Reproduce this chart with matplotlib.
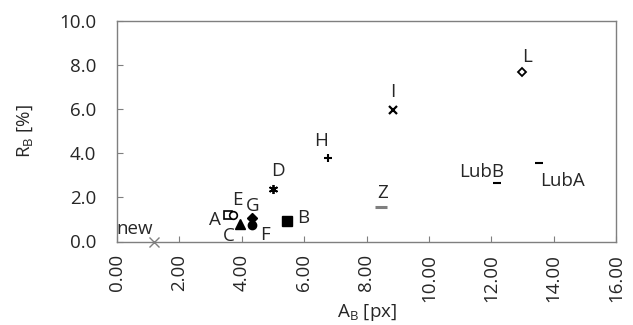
import matplotlib
matplotlib.use("Agg")
import matplotlib.pyplot as plt

# data
names = ["new", "A", "E", "C", "G", "F", "B", "D", "H", "I", "Z", "L", "LubB", "LubA"]
a_b = [1.19, 3.56, 3.72, 3.94, 4.33, 4.33, 5.45, 5.00, 6.76, 8.85, 8.46, 13.00, 12.18, 13.53]
r_b = [0.00, 1.20, 1.20, 0.79, 1.07, 0.75, 0.93, 2.38, 3.79, 5.96, 1.56, 7.69, 2.65, 3.56]

x_ticks = [0, 2, 4, 6, 8, 10, 12, 14, 16]
y_ticks = [0, 2, 4, 6, 8, 10]

# marker style for each point: (marker, size, facecolor, edgecolor, edgewidth)
styles = {
    "new": ("x", 7, "none", "#7f7f7f", 1.0),
    "A": ("s", 5.5, "white", "black", 1.2),
    "E": ("o", 5.5, "white", "black", 1.2),
    "C": ("^", 7, "black", "black", 1.0),
    "G": ("D", 5, "black", "black", 1.0),
    "F": ("o", 6, "black", "black", 1.0),
    "B": ("s", 6.5, "black", "black", 1.0),
    "D": ((6, 2, 0), 6.5, "black", "black", 1.3),
    "H": ("+", 6, "black", "black", 1.5),
    "I": ("x", 5.5, "black", "black", 1.6),
    "Z": ("_", 9, "#7f7f7f", "#7f7f7f", 2.2),
    "L": ("D", 4.5, "white", "black", 1.3),
    "LubB": ("_", 6, "black", "black", 1.5),
    "LubA": ("_", 6, "black", "black", 1.5),
}

# label offsets in pixels (right, up) from the marker
offsets = {
    "new": (-19, 12), "A": (-13, -5), "E": (4, 15), "C": (-11, -12),
    "G": (1, 12), "F": (13, -10), "B": (16, 3), "D": (5, 18),
    "H": (-7, 17), "I": (0, 18), "Z": (2, 14), "L": (5, 15),
    "LubB": (-15, 11), "LubA": (24, -18),
}

plt.rcParams['font.family'] = ['Open Sans', 'DejaVu Sans']
plt.rcParams['mathtext.fontset'] = 'custom'
plt.rcParams['mathtext.rm'] = 'Open Sans'
text_col = "#262626"
fs = 13.5

fig = plt.figure(figsize=(6.33, 3.25), dpi=100)
ax = fig.add_axes([117 / 633, (325 - 241.5) / 325, (616 - 117) / 633, (241.5 - 21) / 325])

for name, x, y in zip(names, a_b, r_b):
    m, ms, fc, ec, ew = styles[name]
    ax.plot(x, y, linestyle="none", marker=m, markersize=ms,
            markerfacecolor=fc, markeredgecolor=ec, markeredgewidth=ew,
            clip_on=False, zorder=3)
    dx, dy = offsets[name]
    ax.annotate(name, (x, y), xytext=(dx * 0.72, dy * 0.72), textcoords="offset points",
                ha="center", va="center", fontsize=fs, color=text_col)

ax.set_xlim(0, 16)
ax.set_ylim(0, 10)
ax.set_xticks(x_ticks)
ax.set_yticks(y_ticks)
ax.set_xticklabels(["%.2f" % v for v in x_ticks], rotation=90)
ax.set_yticklabels(["%.1f" % v for v in y_ticks])
ax.tick_params(direction="in", length=4, width=0.8, color="#7f7f7f",
               labelsize=fs, labelcolor=text_col)
ax.tick_params(axis="y", pad=15)
ax.tick_params(axis="x", pad=9)
for sp in ax.spines.values():
    sp.set_color("#7f7f7f")
    sp.set_linewidth(1.0)

ax.set_xlabel(r"A$_{\mathregular{B}}$ [px]", fontsize=fs, color=text_col, va="center")
ax.set_ylabel(r"R$_{\mathregular{B}}$ [%]", fontsize=fs, color=text_col, va="center")
ax.xaxis.set_label_coords(0.5, -0.324)
ax.yaxis.set_label_coords(-0.184, 0.5)

fig.savefig("out.png", dpi=100)
